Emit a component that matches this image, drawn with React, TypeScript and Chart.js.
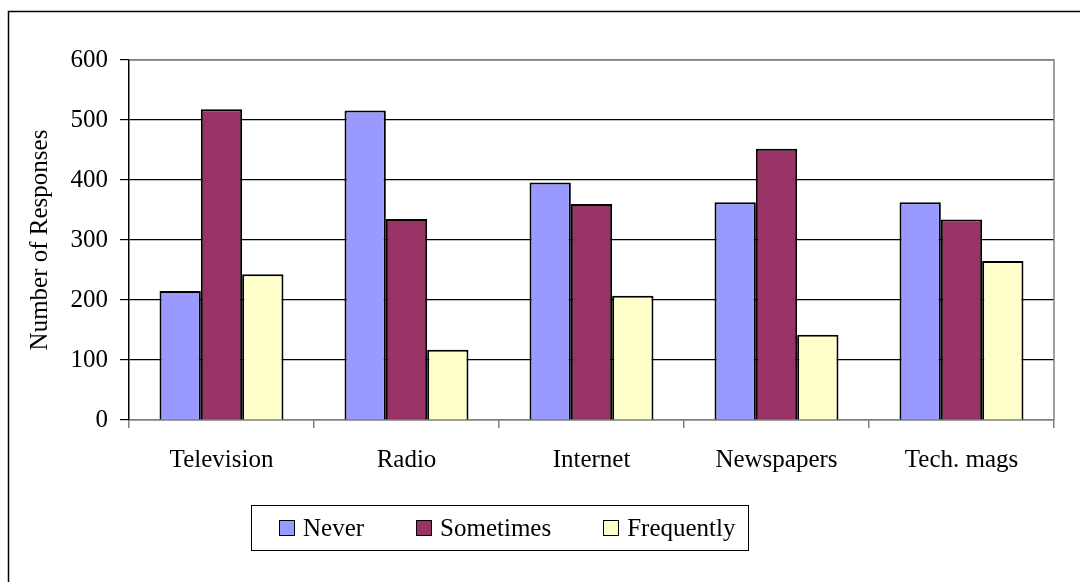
import React, { useEffect, useRef } from "react";
import { Chart, registerables } from "chart.js";

Chart.register(...registerables);

const categories = ["Television", "Radio", "Internet", "Newspapers", "Tech. mags"];
const neverValues = [215, 516, 396, 363, 363];
const sometimesValues = [518, 335, 360, 452, 334];
const frequentlyValues = [243, 117, 207, 142, 265];
const seriesNames = ["Never", "Sometimes", "Frequently"];
const seriesColors = ["#9999FF", "#993366", "#FFFFCC"];
const yTicks = [0, 100, 200, 300, 400, 500, 600];
const yTitle = "Number of Responses";

const FONT = "'Liberation Serif', 'Times New Roman', serif";

const framePlugin = {
  id: "framePlugin",
  beforeDraw(chart: any) {
    const ctx = chart.ctx;
    ctx.save();
    ctx.strokeStyle = "#000";
    ctx.lineWidth = 1.5;
    ctx.beginPath();
    ctx.moveTo(8.5, chart.height);
    ctx.lineTo(8.5, 11.5);
    ctx.lineTo(chart.width, 11.5);
    ctx.stroke();
    ctx.restore();
  },
  afterDatasetsDraw(chart: any) {
    const { ctx, chartArea } = chart;
    ctx.save();
    ctx.strokeStyle = "#808080";
    ctx.lineWidth = 1.5;
    ctx.beginPath();
    ctx.moveTo(chartArea.left, chartArea.top);
    ctx.lineTo(chartArea.right, chartArea.top);
    ctx.lineTo(chartArea.right, chartArea.bottom);
    ctx.stroke();
    ctx.restore();
  },
};

export default function App() {
  const ref = useRef<HTMLCanvasElement | null>(null);

  useEffect(() => {
    document.body.style.margin = "0";
    const canvas = ref.current;
    if (!canvas) return;
    const values = [neverValues, sometimesValues, frequentlyValues];
    const chart = new Chart(canvas, {
      type: "bar",
      data: {
        labels: categories,
        datasets: seriesNames.map((name, i) => ({
          label: name,
          data: values[i],
          backgroundColor: seriesColors[i],
          borderColor: "#000",
          borderWidth: 2,
          categoryPercentage: 0.67,
          barPercentage: 1.0,
        })),
      },
      options: {
        responsive: false,
        animation: false,
        devicePixelRatio: 1,
        layout: { padding: { left: 0, top: 60, right: 26, bottom: 102 } },
        plugins: {
          legend: { display: false },
          tooltip: { enabled: false },
        },
        scales: {
          x: {
            offset: true,
            grid: {
              display: true,
              offset: true,
              drawOnChartArea: false,
              drawTicks: true,
              tickLength: 8,
              color: "#808080",
              lineWidth: 1.5,
            },
            border: { display: true, color: "#808080", width: 1.5 },
            ticks: {
              color: "#000",
              font: { family: FONT, size: 25 },
              padding: 17,
              maxRotation: 0,
            },
            afterFit(scale: any) {
              scale.height = 60;
            },
          },
          y: {
            min: 0,
            max: 600,
            afterBuildTicks(scale: any) {
              scale.ticks = yTicks.map((v) => ({ value: v }));
            },
            grid: {
              color: (c: any) => (c.tick && c.tick.value === 600 ? "#808080" : "#000"),
              lineWidth: 1.2,
              drawTicks: true,
              tickLength: 9,
              tickColor: "#000",
            },
            border: { display: true, color: "#000", width: 1.5 },
            ticks: {
              color: "#000",
              font: { family: FONT, size: 25 },
              padding: 12,
            },
            title: {
              display: true,
              text: yTitle,
              color: "#000",
              font: { family: FONT, size: 25 },
              padding: { top: 25, bottom: 0 },
            },
            afterFit(scale: any) {
              scale.width = 129;
            },
          },
        },
      },
      plugins: [framePlugin],
    });
    return () => chart.destroy();
  }, []);

  return (
    <div style={{ position: "relative", width: 1080, height: 582, overflow: "hidden", background: "#fff" }}>
      <canvas ref={ref} width={1080} height={582} style={{ width: 1080, height: 582, display: "block" }} />
      <div
        style={{
          position: "absolute",
          left: 251,
          top: 505,
          width: 498,
          height: 46,
          border: "1px solid #000",
          display: "flex",
          alignItems: "center",
          paddingLeft: 27,
          boxSizing: "border-box",
          fontFamily: FONT,
          fontSize: 25,
          color: "#000",
          whiteSpace: "nowrap",
        }}
      >
        {seriesNames.map((name, i) => (
          <div key={name} style={{ display: "flex", alignItems: "center", marginRight: 52 }}>
            <span
              style={{
                display: "inline-block",
                width: 14,
                height: 14,
                border: "1px solid #000",
                background: seriesColors[i],
                marginRight: 8,
              }}
            />
            <span>{name}</span>
          </div>
        ))}
      </div>
    </div>
  );
}
